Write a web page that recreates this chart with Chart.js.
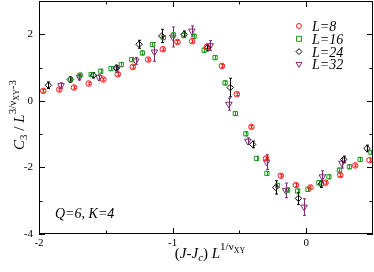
<!DOCTYPE html>
<html>
<head>
<meta charset="utf-8">
<script src="https://cdn.jsdelivr.net/npm/chart.js@4/dist/chart.umd.min.js"></script>
<style>
  html, body { margin: 0; padding: 0; background: #fff; }
  #wrap { width: 374px; height: 272px; }
</style>
</head>
<body>
<div id="wrap"><canvas id="myChart" width="374" height="272"></canvas></div>
<script>
// values
const xL8  = [-1.968, -1.848, -1.738, -1.628, -1.518, -1.410, -1.298, -1.183, -1.073, -0.964, -0.854, -0.744, -0.631, -0.519, -0.410, -0.300, -0.190, -0.077, 0.032, 0.145, 0.255, 0.367, 0.474];
const yL8  = [0.30, 0.34, 0.40, 0.52, 0.64, 0.80, 1.02, 1.24, 1.55, 1.77, 1.79, 1.62, 1.05, 0.20, -0.78, -1.73, -2.25, -2.53, -2.60, -2.46, -2.23, -1.94, -1.78];
const eL8  = [0.04, 0.04, 0.04, 0.04, 0.04, 0.04, 0.04, 0.04, 0.04, 0.04, 0.04, 0.04, 0.04, 0.04, 0.04, 0.04, 0.04, 0.04, 0.04, 0.04, 0.04, 0.04, 0.04];

const xL16 = [-1.763, -1.693, -1.610, -1.538, -1.461, -1.384, -1.306, -1.226, -1.151, -1.069, -0.994, -0.916, -0.839, -0.764, -0.682, -0.607, -0.530, -0.452, -0.372, -0.294, -0.215, -0.139, -0.064, 0.013, 0.095, 0.170, 0.249, 0.324, 0.404, 0.485];
const yL16 = [0.64, 0.77, 0.79, 0.89, 0.97, 1.09, 1.24, 1.44, 1.69, 1.90, 1.98, 1.97, 1.94, 1.52, 1.30, 0.54, -0.38, -0.99, -1.73, -2.18, -2.54, -2.68, -2.71, -2.66, -2.46, -2.28, -2.08, -1.98, -1.76, -1.55];
const eL16 = [0.06, 0.06, 0.06, 0.06, 0.06, 0.06, 0.06, 0.06, 0.06, 0.06, 0.06, 0.06, 0.06, 0.06, 0.06, 0.06, 0.06, 0.06, 0.06, 0.06, 0.06, 0.06, 0.06, 0.06, 0.06, 0.06, 0.06, 0.06, 0.06, 0.06];

const xL24 = [-1.930, -1.766, -1.593, -1.423, -1.251, -1.081, -0.914, -0.739, -0.569, -0.401, -0.228, -0.058, 0.112, 0.281, 0.455];
const yL24 = [0.47, 0.64, 0.77, 0.99, 1.70, 1.95, 2.00, 1.60, 0.40, -1.31, -2.60, -2.93, -2.50, -1.76, -1.43];
const eL24 = [0.10, 0.08, 0.08, 0.08, 0.12, 0.20, 0.10, 0.10, 0.28, 0.10, 0.20, 0.18, 0.10, 0.10, 0.10];

const xL32 = [-1.835, -1.697, -1.551, -1.418, -1.276, -1.136, -0.999, -0.856, -0.719, -0.579, -0.437, -0.296, -0.154, -0.016, 0.121, 0.267];
const yL32 = [0.46, 0.71, 0.70, 0.96, 1.20, 1.47, 1.92, 2.10, 1.66, -0.10, -1.21, -1.84, -2.69, -3.19, -2.28, -1.87];
const eL32 = [0.08, 0.08, 0.08, 0.10, 0.10, 0.28, 0.30, 0.15, 0.15, 0.18, 0.10, 0.22, 0.22, 0.25, 0.18, 0.15];

const xMajor = [-2, -1, 0];
const xMinor = [-1.5, -0.5];
const yMajor = [-4, -2, 0, 2];
const yMinor = [-3, -1, 1];

const serif = "'Liberation Serif', 'DejaVu Serif', serif";

function pts(xs, ys, es) {
  return xs.map((x, i) => ({ x: x, y: ys[i], e: es[i] }));
}

// draw a run of text pieces: [text, italic, size, baseline shift]
function richWidth(ctx, parts) {
  let w = 0;
  parts.forEach(p => {
    ctx.font = (p[1] ? 'italic ' : '') + p[2] + 'px ' + serif;
    w += ctx.measureText(p[0]).width;
  });
  return w;
}
function drawRich(ctx, parts, x, y) {
  let cx = x;
  parts.forEach(p => {
    ctx.font = (p[1] ? 'italic ' : '') + p[2] + 'px ' + serif;
    ctx.fillText(p[0], cx, y + p[3]);
    cx += ctx.measureText(p[0]).width;
  });
}

const errorBars = {
  id: 'errorBars',
  beforeDatasetsDraw(chart) {
    const { ctx, scales: { x, y } } = chart;
    chart.data.datasets.forEach(ds => {
      ctx.save();
      ctx.strokeStyle = ds.borderColor;
      ctx.lineWidth = 1;
      ds.data.forEach(p => {
        const px = Math.round(x.getPixelForValue(p.x)) + 0.5;
        const y1 = y.getPixelForValue(p.y - p.e);
        const y2 = y.getPixelForValue(p.y + p.e);
        ctx.beginPath();
        ctx.moveTo(px, y1); ctx.lineTo(px, y2);
        ctx.moveTo(px - 1.5, y1); ctx.lineTo(px + 1.5, y1);
        ctx.moveTo(px - 1.5, y2); ctx.lineTo(px + 1.5, y2);
        ctx.stroke();
      });
      ctx.restore();
    });
  }
};

const frameAndText = {
  id: 'frameAndText',
  afterDraw(chart) {
    const { ctx, chartArea: a, scales: { x, y } } = chart;
    ctx.save();
    ctx.strokeStyle = '#000';
    ctx.lineWidth = 1;
    ctx.strokeRect(a.left + 0.5, a.top + 0.5, a.right - a.left - 1, a.bottom - a.top - 1);
    ctx.beginPath();
    const tickX = (vals, len) => vals.forEach(v => {
      const px = Math.round(x.getPixelForValue(v)) + 0.5;
      ctx.moveTo(px, a.bottom); ctx.lineTo(px, a.bottom - len);
      ctx.moveTo(px, a.top); ctx.lineTo(px, a.top + len);
    });
    const tickY = (vals, len) => vals.forEach(v => {
      const py = Math.round(y.getPixelForValue(v)) + 0.5;
      ctx.moveTo(a.left, py); ctx.lineTo(a.left + len, py);
      ctx.moveTo(a.right, py); ctx.lineTo(a.right - len, py);
    });
    tickX(xMajor, 6); tickX(xMinor, 3.5);
    tickY(yMajor, 6); tickY(yMinor, 3.5);
    ctx.stroke();

    ctx.fillStyle = '#000';
    ctx.textBaseline = 'alphabetic';

    // legend inside the plot
    const leg = chart.data.datasets;
    leg.forEach((ds, i) => {
      const ly = 26 + i * 12.8;
      const lx = 299;
      ctx.strokeStyle = ds.borderColor;
      ctx.lineWidth = 1;
      ctx.beginPath();
      if (ds.pointStyle === 'circle') {
        ctx.arc(lx, ly, 2.5, 0, Math.PI * 2);
      } else if (ds.pointStyle === 'rect') {
        ctx.rect(lx - 2.5, ly - 2.5, 5, 5);
      } else if (ds.pointStyle === 'rectRot') {
        ctx.moveTo(lx, ly - 3); ctx.lineTo(lx + 3, ly); ctx.lineTo(lx, ly + 3); ctx.lineTo(lx - 3, ly); ctx.closePath();
      } else {
        ctx.moveTo(lx - 3, ly - 2); ctx.lineTo(lx + 3, ly - 2); ctx.lineTo(lx, ly + 3); ctx.closePath();
      }
      ctx.stroke();
      ctx.fillStyle = '#000';
      ctx.font = 'italic 14px ' + serif;
      ctx.fillText(ds.label, 312, ly + 5);
    });

    ctx.font = 'italic 14px ' + serif;
    ctx.fillText('Q=6, K=4', 55, 218);

    // x axis title
    const xt = [['(', false, 15, 0], ['J', true, 15, 0], ['-', false, 15, 0], ['J', true, 15, 0], ['c', true, 11, 3],
                [') ', false, 15, 0], ['L', true, 15, 0], ['1/\u03bd', false, 11, -8], ['XY', false, 8, -5]];
    const xw = richWidth(ctx, xt);
    drawRich(ctx, xt, 210 - xw / 2, 258);

    // y axis title
    const yt = [['C', true, 15, 0], ['3', false, 11, 3], [' / ', false, 15, 0], ['L', true, 15, 0],
                ['3/\u03bd', false, 11, -8], ['XY', false, 8, -5], ['-3', false, 11, -8]];
    const yw = richWidth(ctx, yt);
    ctx.translate(24, 115);
    ctx.rotate(-Math.PI / 2);
    drawRich(ctx, yt, -yw / 2, 0);
    ctx.restore();
  }
};

const ctx = document.getElementById('myChart');

new Chart(ctx, {
  type: 'scatter',
  data: {
    datasets: [{
      label: 'L=8',
      data: pts(xL8, yL8, eL8),
      pointStyle: 'circle',
      borderColor: '#ff1a1a',
      pointRadius: 2.8
    }, {
      label: 'L=16',
      data: pts(xL16, yL16, eL16),
      pointStyle: 'rect',
      borderColor: '#1f9a1f',
      pointRadius: 3
    }, {
      label: 'L=24',
      data: pts(xL24, yL24, eL24),
      pointStyle: 'rectRot',
      borderColor: '#000000',
      pointRadius: 3.2
    }, {
      label: 'L=32',
      data: pts(xL32, yL32, eL32),
      pointStyle: 'triangle',
      rotation: 180,
      borderColor: '#7d2a72',
      pointRadius: 3.8
    }]
  },
  options: {
    responsive: false,
    animation: false,
    events: [],
    layout: { autoPadding: false, padding: { left: 0, right: 1, top: 1, bottom: 0 } },
    elements: { point: { backgroundColor: 'rgba(0,0,0,0)', borderWidth: 1 } },
    plugins: { legend: { display: false }, tooltip: { enabled: false } },
    scales: {
      x: {
        type: 'linear', min: -2, max: 0.5,
        grid: { display: false, drawTicks: false },
        border: { display: false },
        afterBuildTicks: s => { s.ticks = xMajor.map(v => ({ value: v })); },
        afterFit: s => { s.height = 38; s.paddingLeft = 0; s.paddingRight = 0; s.paddingTop = 0; s.paddingBottom = 0; },
        ticks: { color: '#000', padding: 3, font: { family: serif, size: 11 }, maxRotation: 0 }
      },
      y: {
        type: 'linear', min: -4, max: 3,
        grid: { display: false, drawTicks: false },
        border: { display: false },
        afterBuildTicks: s => { s.ticks = yMajor.map(v => ({ value: v })); },
        afterFit: s => { s.width = 39; s.paddingLeft = 0; s.paddingRight = 0; s.paddingTop = 0; s.paddingBottom = 0; },
        ticks: { color: '#000', padding: 6, font: { family: serif, size: 11 } }
      }
    }
  },
  plugins: [errorBars, frameAndText]
});
</script>
</body>
</html>
